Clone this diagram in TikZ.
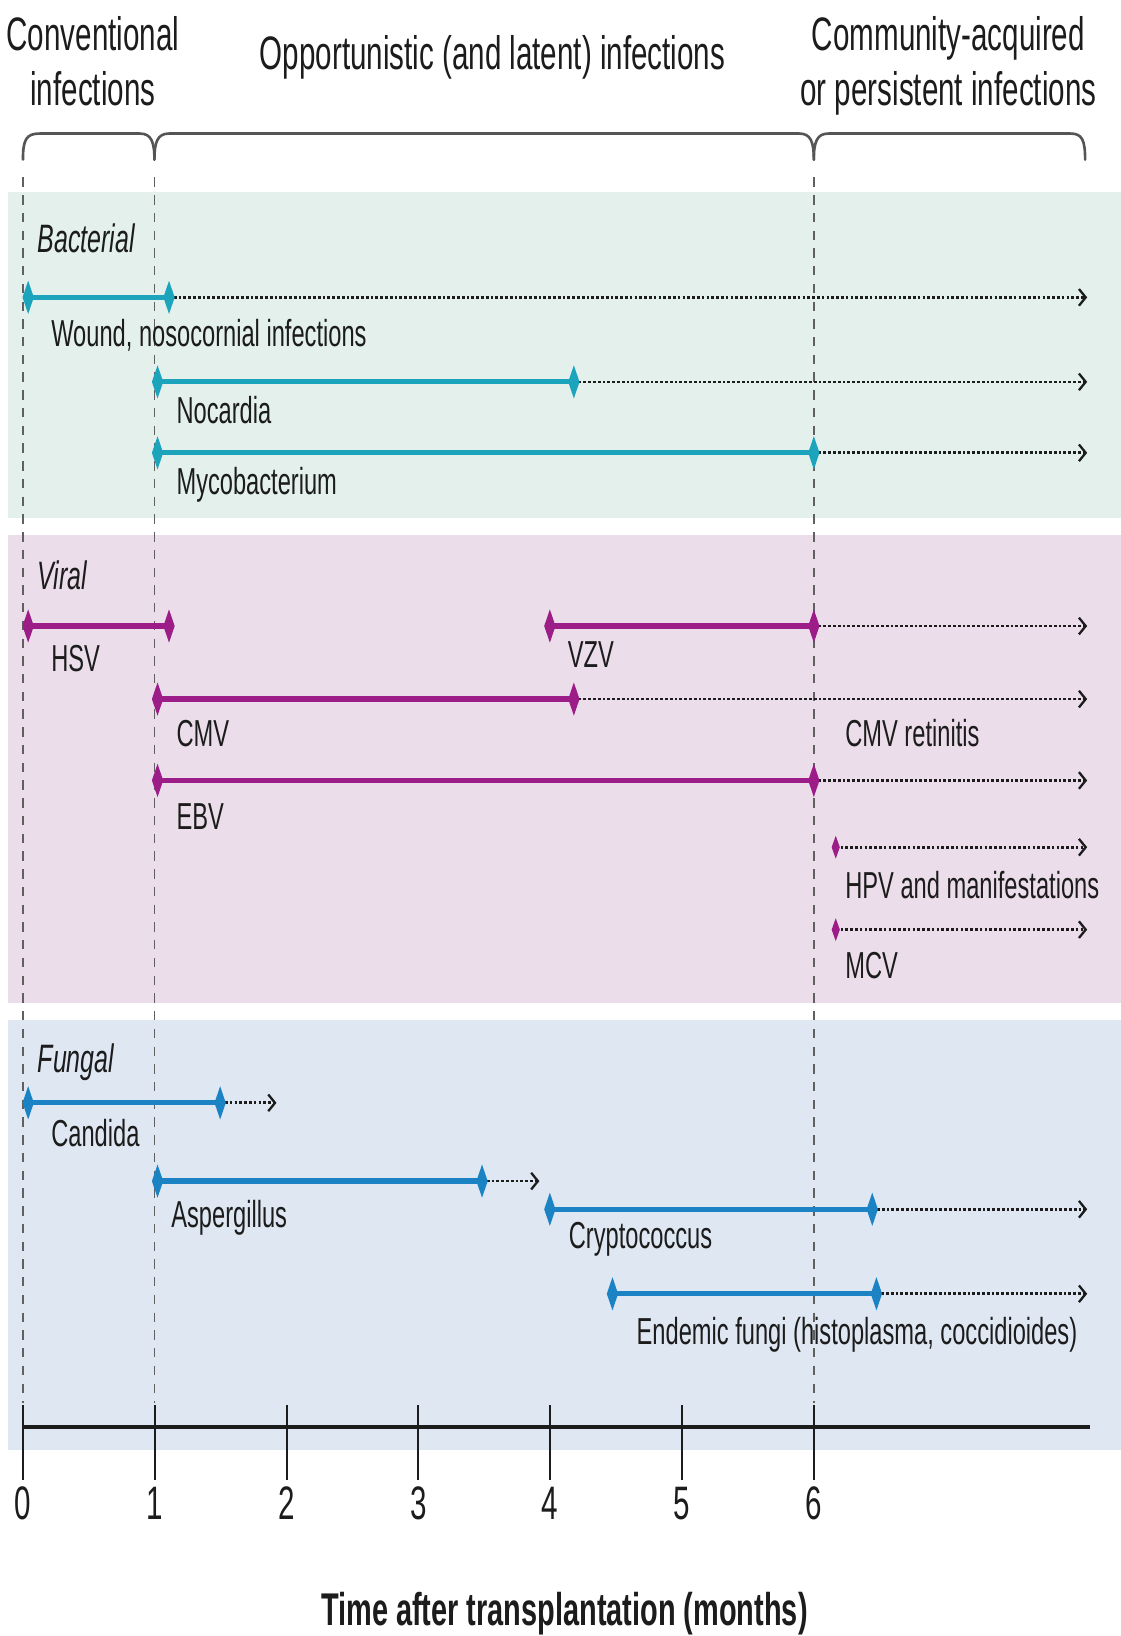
\documentclass[tikz,border=0pt]{standalone}
\usepackage{fontspec}
\setmainfont{Liberation Sans}[FakeStretch=0.63]
\usetikzlibrary{shapes.geometric,arrows.meta}

\definecolor{ink}{HTML}{1C1C1C}
\definecolor{bact}{HTML}{1DA4BD}
\definecolor{viral}{HTML}{9C1D87}
\definecolor{fung}{HTML}{1B82C4}
\definecolor{bactbg}{HTML}{E3F0EC}
\definecolor{viralbg}{HTML}{EBDDEA}
\definecolor{fungbg}{HTML}{DEE7F2}
\definecolor{guidegray}{HTML}{606060}
\definecolor{bracegray}{HTML}{555555}

\pgfdeclarelayer{bands}
\pgfdeclarelayer{lines}
\pgfsetlayers{bands,lines,main}

\tikzset{
  lbl/.style={anchor=base west, inner sep=0pt, text=ink, font=\fontsize{36}{40}\selectfont},
  hdr/.style={anchor=base, inner sep=0pt, text=ink, font=\fontsize{45}{50}\selectfont},
  sect/.style={anchor=base west, inner sep=0pt, text=ink, font=\fontsize{38}{42}\selectfont\itshape},
  ticklbl/.style={anchor=base, inner sep=0pt, text=ink, font=\fontsize{45}{50}\selectfont},
  dia/.style={diamond, fill=#1, inner sep=0pt, minimum width=11pt, minimum height=32pt},
  sdia/.style={diamond, fill=#1, inner sep=0pt, minimum width=8pt, minimum height=22pt},
  solidspan/.style={draw=#1, line width=5pt},
  contline/.style={draw=ink, line width=2.6pt, dash pattern=on 2.6pt off 2pt,
    -{Straight Barb[length=6.5pt,width=16pt,line width=2.2pt]}},
  guideline/.style={draw=guidegray, line width=1.6pt, dash pattern=on 9pt off 8pt},
  bracepath/.style={draw=bracegray, line width=2.5pt, line cap=round},
  axtick/.style={draw=ink, line width=2pt},
}

\begin{document}
\begin{tikzpicture}[x=1pt,y=-1pt]
\useasboundingbox (0,0) rectangle (1074,1568);

% background bands
\begin{pgfonlayer}{bands}
  \fill[white] (0,0) rectangle (1074,1568);
  \fill[bactbg]  (8,184) rectangle (1074,496);
  \fill[viralbg] (8,513) rectangle (1074,961);
  \fill[fungbg]  (8,978) rectangle (1074,1390);
\end{pgfonlayer}

% period headers
\node[hdr] (hconv1) at (89,48) {Conventional};
\node[hdr] (hconv2) at (89,101) {infections};
\node[hdr] (hopp) at (472,67) {Opportunistic (and latent) infections};
\node[hdr] (hcom1) at (909,48) {Community-acquired};
\node[hdr] (hcom2) at (909,101) {or persistent infections};

% braces
\draw[bracepath] (22,153) .. controls (22,134) and (25,128) .. (38,128) -- (134,128)
  .. controls (145,128) and (148,136) .. (148,153);
\draw[bracepath] (148,153) .. controls (148,136) and (151,128) .. (162,128) -- (766,128)
  .. controls (777,128) and (780,136) .. (780,153);
\draw[bracepath] (780,153) .. controls (780,136) and (783,128) .. (794,128) -- (1026,128)
  .. controls (1037,128) and (1040,134) .. (1040,153);

% month guides
\coordinate (g0a) at (22,170);  \coordinate (g0b) at (22,1345);
\coordinate (g1a) at (148,170); \coordinate (g1b) at (148,1345);
\coordinate (g6a) at (780,170); \coordinate (g6b) at (780,1345);
\begin{pgfonlayer}{lines}
  \draw[guideline] (g0a) -- (g0b);
  \draw[guideline] (g1a) -- (g1b);
  \draw[guideline] (g6a) -- (g6b);
\end{pgfonlayer}

% ---------- Bacterial ----------
\node[sect] (sbact) at (36,242) {Bacterial};

\node[dia=bact] (wo1) at (27,285) {};
\node[dia=bact] (wo2) at (162,285) {};
\coordinate (wo3) at (1042,285);
\node[lbl] (wol) at (49,332) {Wound, nosocornial infections};

\node[dia=bact] (no1) at (151,366) {};
\node[dia=bact] (no2) at (550,366) {};
\coordinate (no3) at (1042,366);
\node[lbl] (nol) at (169,406) {Nocardia};

\node[dia=bact] (my1) at (151,434) {};
\node[dia=bact] (my2) at (780,434) {};
\coordinate (my3) at (1042,434);
\node[lbl] (myl) at (169,474) {Mycobacterium};

% ---------- Viral ----------
\node[sect] (sviral) at (36,565) {Viral};

\node[dia=viral] (hs1) at (27,600) {};
\node[dia=viral] (hs2) at (162,600) {};
\node[lbl] (hsl) at (49,644) {HSV};

\node[dia=viral] (vz1) at (527,600) {};
\node[dia=viral] (vz2) at (780,600) {};
\coordinate (vz3) at (1042,600);
\node[lbl] (vzl) at (544,640) {VZV};

\node[dia=viral] (cm1) at (151,670) {};
\node[dia=viral] (cm2) at (550,670) {};
\coordinate (cm3) at (1042,670);
\node[lbl] (cml) at (169,715) {CMV};
\node[lbl] (cmr) at (810,715) {CMV retinitis};

\node[dia=viral] (eb1) at (151,748) {};
\node[dia=viral] (eb2) at (780,748) {};
\coordinate (eb3) at (1042,748);
\node[lbl] (ebl) at (169,795) {EBV};

\node[sdia=viral] (hp1) at (801,812) {};
\coordinate (hp2) at (1042,812);
\node[lbl] (hpl) at (810,861) {HPV and manifestations};

\node[sdia=viral] (mc1) at (801,891) {};
\coordinate (mc2) at (1042,891);
\node[lbl] (mcl) at (810,938) {MCV};

% ---------- Fungal ----------
\node[sect] (sfung) at (36,1028) {Fungal};

\node[dia=fung] (ca1) at (27,1057) {};
\node[dia=fung] (ca2) at (211,1057) {};
\coordinate (ca3) at (265,1057);
\node[lbl] (cal) at (49,1099) {Candida};

\node[dia=fung] (as1) at (151,1132) {};
\node[dia=fung] (as2) at (462,1132) {};
\coordinate (as3) at (517,1132);
\node[lbl] (asl) at (164,1176) {Aspergillus};

\node[dia=fung] (cr1) at (527,1159) {};
\node[dia=fung] (cr2) at (836,1159) {};
\coordinate (cr3) at (1042,1159);
\node[lbl] (crl) at (545,1197) {Cryptococcus};

\node[dia=fung] (en1) at (587,1240) {};
\node[dia=fung] (en2) at (840,1240) {};
\coordinate (en3) at (1042,1240);
\node[lbl] (enl) at (610,1289) {Endemic fungi (histoplasma, coccidioides)};

% spans and continuations
\begin{pgfonlayer}{lines}
  \draw[solidspan=bact] (wo1.center) -- (wo2.center);
  \draw[contline] (wo2.center) -- (wo3);
  \draw[solidspan=bact] (no1.center) -- (no2.center);
  \draw[contline] (no2.center) -- (no3);
  \draw[solidspan=bact] (my1.center) -- (my2.center);
  \draw[contline] (my2.center) -- (my3);

  \draw[solidspan=viral] (hs1.center) -- (hs2.center);
  \draw[solidspan=viral] (vz1.center) -- (vz2.center);
  \draw[contline] (vz2.center) -- (vz3);
  \draw[solidspan=viral] (cm1.center) -- (cm2.center);
  \draw[contline] (cm2.center) -- (cm3);
  \draw[solidspan=viral] (eb1.center) -- (eb2.center);
  \draw[contline] (eb2.center) -- (eb3);
  \draw[contline] (hp1.center) -- (hp2);
  \draw[contline] (mc1.center) -- (mc2);

  \draw[solidspan=fung] (ca1.center) -- (ca2.center);
  \draw[contline] (ca2.center) -- (ca3);
  \draw[solidspan=fung] (as1.center) -- (as2.center);
  \draw[contline] (as2.center) -- (as3);
  \draw[solidspan=fung] (cr1.center) -- (cr2.center);
  \draw[contline] (cr2.center) -- (cr3);
  \draw[solidspan=fung] (en1.center) -- (en2.center);
  \draw[contline] (en2.center) -- (en3);
\end{pgfonlayer}

% time axis
\coordinate (axl) at (22,1368);
\coordinate (axr) at (1045,1368);
\foreach \m in {0,...,6} {
  \coordinate (tk\m a) at ({22+126.33*\m},1347);
  \coordinate (tk\m b) at ({22+126.33*\m},1418);
  \draw[axtick] (tk\m a) -- (tk\m b);
  \node[ticklbl] (tl\m) at ({22+126.33*\m},1456) {\m};
}
\draw[draw=ink, line width=4pt] (axl) -- (axr);

\node[anchor=base, inner sep=0pt, text=ink, font=\fontsize{44}{50}\selectfont\bfseries]
  (axtitle) at (541,1558) {Time after transplantation (months)};

\end{tikzpicture}
\end{document}
